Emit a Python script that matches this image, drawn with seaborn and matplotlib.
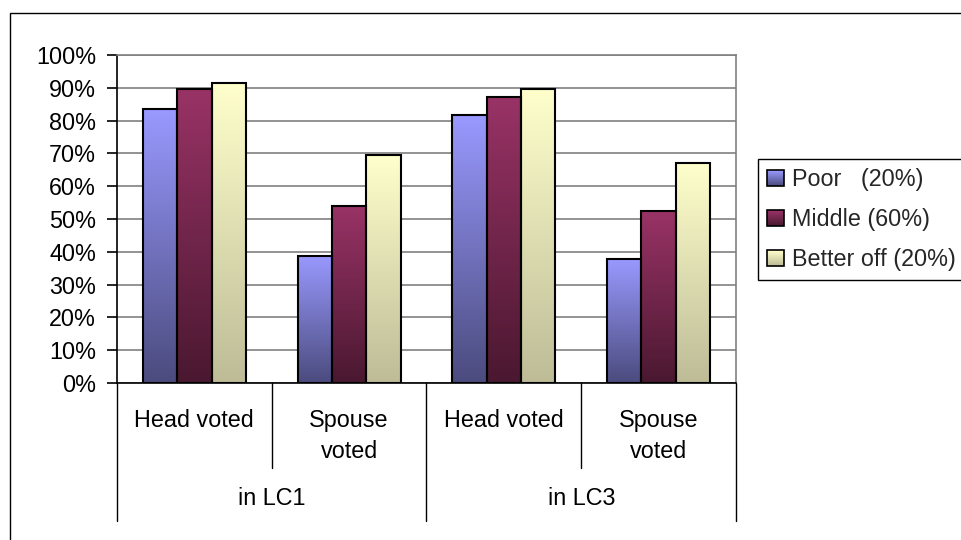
import numpy as np
import pandas as pd
import matplotlib
matplotlib.use("Agg")
import matplotlib.pyplot as plt
import seaborn as sns
from matplotlib.colors import LinearSegmentedColormap
from matplotlib.patches import Patch, Rectangle
from matplotlib.legend_handler import HandlerBase
from matplotlib.ticker import FuncFormatter

sns.set_style("white")
plt.rcParams["font.family"] = ["Liberation Sans", "DejaVu Sans"]

# Two-level category axis: survey round -> who voted
groups = ["in LC1", "in LC3"]
items = ["Head voted", "Spouse\nvoted"]
series = ["Poor   (20%)", "Middle (60%)", "Better off (20%)"]

# Share of households (%) by wealth group
poor = [83.4, 38.8, 81.7, 37.8]
middle = [89.7, 54.0, 87.2, 52.4]
better = [91.4, 69.4, 89.6, 67.1]
y_ticks = list(range(0, 101, 10))

top_colors = ["#9999FF", "#993366", "#FFFFCC"]
bottom_colors = ["#4B4B7E", "#4A1830", "#BDBC97"]

keys = [f"{g}|{i}" for g in groups for i in items]
df = pd.DataFrame({
    "key": keys * 3,
    "series": np.repeat(series, len(keys)),
    "value": poor + middle + better,
})

FONT = 16.8
fig = plt.figure(figsize=(9.62, 5.40), dpi=100)
ax = fig.add_axes([117 / 962, 1 - 383 / 540, 619 / 962, 328 / 540])

sns.barplot(data=df, x="key", y="value", hue="series", order=keys,
            hue_order=series, width=0.667, palette=top_colors, saturation=1,
            edgecolor="black", linewidth=1.5, legend=False, ax=ax, zorder=3)

# Vertical gradient fill inside every bar, light at the top, dark at the base
grad = np.linspace(1, 0, 256).reshape(-1, 1)
for ci, cont in enumerate(ax.containers):
    cmap = LinearSegmentedColormap.from_list(
        f"bar{ci}", [bottom_colors[ci], top_colors[ci]])
    for bar in cont:
        x0, w, h = bar.get_x(), bar.get_width(), bar.get_height()
        im = ax.imshow(grad, extent=[x0, x0 + w, 0, h], origin="upper",
                       aspect="auto", cmap=cmap, vmin=0, vmax=1,
                       interpolation="bilinear", zorder=2.5)
        im.set_clip_path(bar)
        bar.set_facecolor("none")

ax.set_xlim(-0.5, len(keys) - 0.5)
ax.set_ylim(0, 100)
ax.set_aspect("auto")
ax.set_xlabel("")
ax.set_ylabel("")

ax.set_yticks(y_ticks)
ax.yaxis.set_major_formatter(FuncFormatter(lambda v, p: f"{v:.0f}%"))
ax.tick_params(axis="y", left=True, direction="out", length=7, width=1.2,
               color="black", labelsize=FONT, pad=8, labelcolor="black")
ax.tick_params(axis="x", bottom=False, labelbottom=False)
ax.yaxis.grid(True, color="#808080", linewidth=1.2)
ax.set_axisbelow(True)

for s in ["top", "right"]:
    ax.spines[s].set_color("#808080")
    ax.spines[s].set_linewidth(1.2)
for s in ["left", "bottom"]:
    ax.spines[s].set_color("black")
    ax.spines[s].set_linewidth(1.2)

# Multi-level category labels and separators below the axis
tr = ax.get_xaxis_transform()
pos = 0
for gi, g in enumerate(groups):
    start = pos
    for ii, it in enumerate(items):
        ax.text(pos, -0.080, it, transform=tr, ha="center", va="top",
                fontsize=FONT, linespacing=1.45, color="black")
        if ii < len(items) - 1:
            ax.plot([pos + 0.5, pos + 0.5], [0, -0.259], transform=tr,
                    color="black", lw=1, clip_on=False)
        pos += 1
    ax.text((start + pos - 1) / 2, -0.353, g, transform=tr, ha="center",
            va="center", fontsize=FONT, color="black")
for xb in [-0.5] + [k * len(items) - 0.5 for k in range(1, len(groups) + 1)]:
    ax.plot([xb, xb], [0, -0.421], transform=tr, color="black", lw=1,
            clip_on=False)


class GradientHandler(HandlerBase):
    def __init__(self, c_top, c_bottom):
        super().__init__()
        self.c_top = c_top
        self.c_bottom = c_bottom

    def create_artists(self, legend, orig_handle, xdescent, ydescent,
                       width, height, fontsize, trans):
        cmap = LinearSegmentedColormap.from_list(
            "swatch", [self.c_bottom, self.c_top])
        n = 16
        arts = []
        for k in range(n):
            arts.append(Rectangle((-xdescent, -ydescent + height * k / n),
                                  width, height / n * 1.05,
                                  facecolor=cmap(k / (n - 1)),
                                  edgecolor="none", transform=trans))
        arts.append(Rectangle((-xdescent, -ydescent), width, height,
                              facecolor="none", edgecolor="black", lw=1.2,
                              transform=trans))
        return arts


handles = [Patch(facecolor=c) for c in top_colors]
hmap = {h: GradientHandler(t, b)
        for h, t, b in zip(handles, top_colors, bottom_colors)}
leg = fig.legend(handles, series, handler_map=hmap, loc="upper left",
                 bbox_to_anchor=(758 / 962, 1 - 159 / 540), frameon=True,
                 fancybox=False, edgecolor="black", framealpha=1,
                 fontsize=FONT, handlelength=0.7, handleheight=0.7,
                 handletextpad=0.35, labelspacing=0.72, borderpad=0.4,
                 borderaxespad=0)
leg.get_frame().set_linewidth(1.0)

# Chart area border
fig.add_artist(Rectangle((10 / 962, -0.2), 2, 1 - 12.5 / 540 + 0.2,
                         transform=fig.transFigure, fill=False,
                         edgecolor="black", lw=1))

fig.savefig("out.png", dpi=100)
